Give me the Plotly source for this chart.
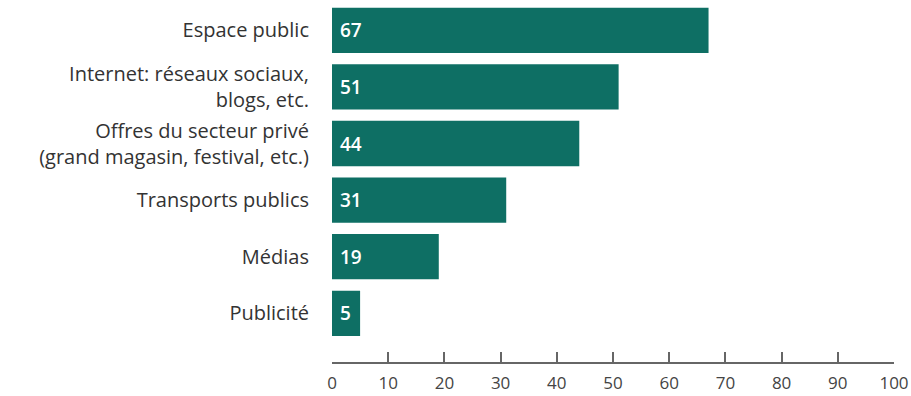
import plotly.graph_objects as go

categories = [
    "Espace public",
    "Internet: réseaux sociaux,<br>blogs, etc.",
    "Offres du secteur privé<br>(grand magasin, festival, etc.)",
    "Transports publics",
    "Médias",
    "Publicité",
]
values = [67, 51, 44, 31, 19, 5]
x_ticks = [0, 10, 20, 30, 40, 50, 60, 70, 80, 90, 100]

BAR = "#0e6f64"

fig = go.Figure()
fig.add_trace(go.Bar(
    x=values, y=categories, orientation="h",
    marker=dict(color=BAR, line=dict(width=0)),
    hoverinfo="skip",
))
for c, v in zip(categories, values):
    fig.add_annotation(x=0, y=c, text=str(v), showarrow=False,
                       xanchor="left", xshift=6,
                       font=dict(family="Open Sans", size=19, color="white", weight=600))

fig.update_layout(
    width=911, height=396,
    margin=dict(l=332, r=14, t=2, b=33),
    paper_bgcolor="white", plot_bgcolor="white",
    bargap=0.2, showlegend=False,
    font=dict(family="Open Sans", color="#333"),
)
fig.update_xaxes(
    range=[0, 100], tickvals=x_ticks, showgrid=False, zeroline=False,
    showline=True, linecolor="#666", linewidth=1.5,
    ticks="inside", ticklen=10, tickcolor="#666", tickwidth=1.5,
    ticklabelstandoff=5, ticklabeloverflow="allow",
    tickfont=dict(family="Open Sans", size=17, color="#444"),
)
fig.update_yaxes(
    categoryorder="array", categoryarray=categories,
    range=[5.86, -0.5], showgrid=False, zeroline=False, showline=False,
    ticks="", ticklabelstandoff=22,
    tickfont=dict(family="Open Sans", size=20, color="#333"),
)
fig.write_html("out.html")
